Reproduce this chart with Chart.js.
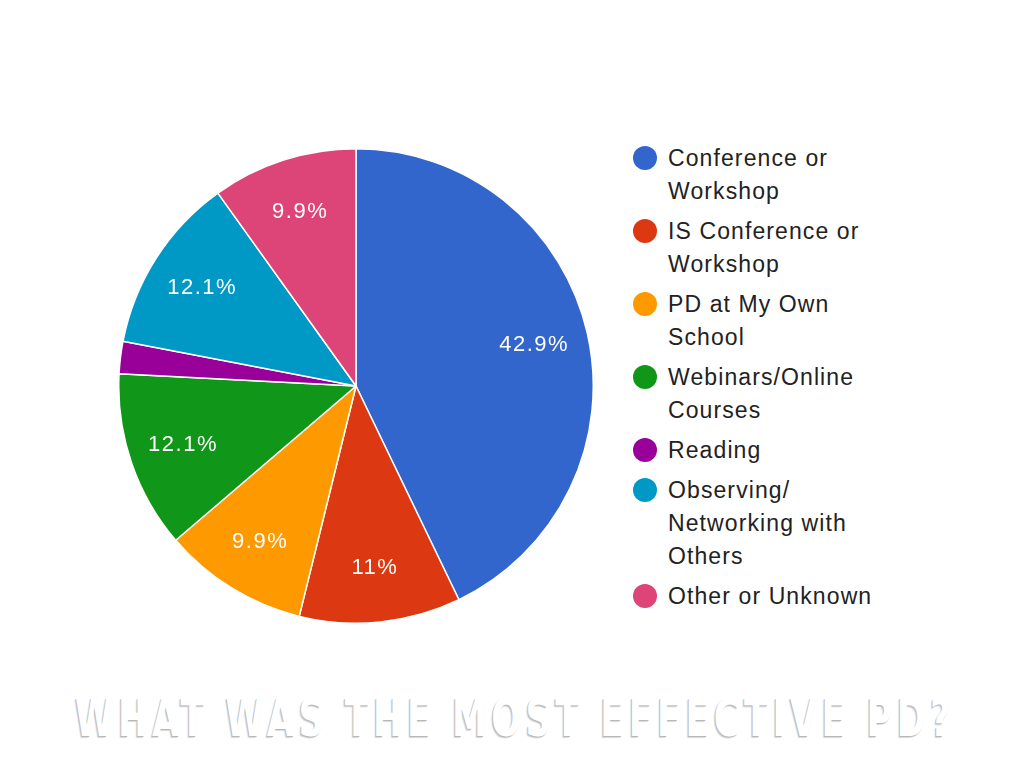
<!DOCTYPE html>
<html>
<head>
<meta charset="utf-8">
<script src="https://cdn.jsdelivr.net/npm/chart.js@4"></script>
<style>
  html, body { margin: 0; padding: 0; background: #ffffff; }
  body { width: 1024px; height: 768px; position: relative; overflow: hidden; }
  #pieWrap { position: absolute; left: 118px; top: 148px; width: 476px; height: 476px; }
  #legend { position: absolute; left: 632px; top: 142px; font-family: "Liberation Sans", Arial, sans-serif; font-size: 23px; letter-spacing: 1.1px; color: #222; }
  .item { position: relative; padding-left: 36px; line-height: 33px; margin-bottom: 7px; width: 260px; }
  .dot { position: absolute; left: 1px; top: 4px; width: 24px; height: 24px; border-radius: 50%; }
  #title { position: absolute; left: 75px; top: 688px; white-space: nowrap; font-family: "DejaVu Sans Condensed", "DejaVu Sans", sans-serif; font-weight: bold; font-size: 52px; letter-spacing: 6px; color: #ffffff; text-shadow: -1px 1px 0 #b8b8b8, -2px 2px 1px #d8d8d8; transform-origin: 0 0; }
</style>
</head>
<body>
<div id="pieWrap"><canvas id="c"></canvas></div>
<div id="legend"></div>
<div id="title">WHAT WAS THE MOST EFFECTIVE PD?</div>
<script>
const categories = ["Conference or Workshop", "IS Conference or Workshop", "PD at My Own School", "Webinars/Online Courses", "Reading", "Observing/ Networking with Others", "Other or Unknown"];
const legendLines = [["Conference or", "Workshop"], ["IS Conference or", "Workshop"], ["PD at My Own", "School"], ["Webinars/Online", "Courses"], ["Reading"], ["Observing/", "Networking with", "Others"], ["Other or Unknown"]];
const percentValues = [42.9, 11.0, 9.9, 12.1, 2.2, 12.1, 9.9];
const percentLabels = ["42.9%", "11%", "9.9%", "12.1%", "", "12.1%", "9.9%"];
const colors = ["#3366cc", "#dc3912", "#ff9900", "#109618", "#990099", "#0099c6", "#dd4477"];

const legend = document.getElementById('legend');
legendLines.forEach((lines, i) => {
  const d = document.createElement('div');
  d.className = 'item';
  d.innerHTML = '<span class="dot" style="background:' + colors[i] + '"></span>' + lines.join('<br>');
  legend.appendChild(d);
});

const t = document.getElementById('title');
const tw = t.getBoundingClientRect().width;
t.style.transform = 'scaleX(' + (880 / tw) + ')';

const sliceLabels = {
  id: 'sliceLabels',
  afterDatasetsDraw(chart) {
    const ctx = chart.ctx;
    const meta = chart.getDatasetMeta(0);
    ctx.save();
    ctx.font = '22px "Liberation Sans", Arial, sans-serif';
    if ('letterSpacing' in ctx) ctx.letterSpacing = '1.5px';
    ctx.fillStyle = '#ffffff';
    ctx.textAlign = 'center';
    ctx.textBaseline = 'middle';
    meta.data.forEach((arc, i) => {
      const txt = percentLabels[i];
      if (!txt) return;
      const p = arc.getProps(['x', 'y', 'startAngle', 'endAngle', 'outerRadius'], true);
      const mid = (p.startAngle + p.endAngle) / 2;
      const r = p.outerRadius * 0.77;
      ctx.fillText(txt, p.x + Math.cos(mid) * r, p.y + Math.sin(mid) * r);
    });
    ctx.restore();
  }
};

new Chart(document.getElementById('c'), {
  type: 'pie',
  data: {
    labels: categories,
    datasets: [{ data: percentValues, backgroundColor: colors, borderColor: '#ffffff', borderWidth: 1.5 }]
  },
  options: {
    responsive: true,
    maintainAspectRatio: false,
    animation: false,
    layout: { padding: 0 },
    plugins: { legend: { display: false }, tooltip: { enabled: false } }
  },
  plugins: [sliceLabels]
});
</script>
</body>
</html>
